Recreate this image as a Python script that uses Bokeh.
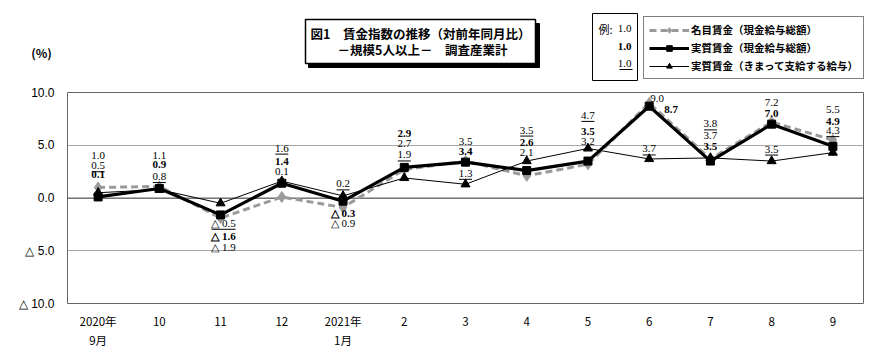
from bokeh.plotting import figure
from bokeh.models import (FixedTicker, BoxAnnotation, Legend, LegendItem, ColumnDataSource)
from bokeh.embed import file_html
from bokeh.resources import INLINE
from bokeh.core.properties import value

# ---------------- data ----------------
months = ["2020年\n9月", "10", "11", "12", "2021年\n1月", "2", "3", "4", "5", "6", "7", "8", "9"]
nominal = [1.0, 1.1, -1.9, 0.1, -0.9, 2.7, 3.5, 2.1, 3.2, 9.0, 3.7, 7.2, 5.5]   # 名目賃金（現金給与総額）
real = [0.1, 0.9, -1.6, 1.4, -0.3, 2.9, 3.4, 2.6, 3.5, 8.7, 3.5, 7.0, 4.9]      # 実質賃金（現金給与総額）
sched = [0.5, 0.8, -0.5, 1.6, 0.2, 1.9, 1.3, 3.5, 4.7, 3.7, 3.8, 3.5, 4.3]      # 実質賃金（きまって支給する給与）
y_ticks = [-10, -5, 0, 5, 10]
y_tick_labels = ["△ 10.0", "△ 5.0", "0.0", "5.0", "10.0"]
series_names = ["名目賃金（現金給与総額）", "実質賃金（現金給与総額）", "実質賃金（きまって支給する給与）"]
title_lines = ["図1　賃金指数の推移（対前年同月比）", "－規模5人以上－　調査産業計"]

# ---------------- label placement (screen px offsets from each point) ----------------
nom_dx = [0, 0, 3, 0, 0, 0, 0, 0, 0, 8, 0, 0, 0]
nom_dy = [-32, -31, 29, -25, 16, -26, -20, -23, -23, -5, -23, -20, -30]
real_dx = [0, 0, 3, 0, 0, 0, 0, 0, 0, 22, 0, 0, 0]
real_dy = [-22, -24, 21, -22, 12, -34, -11, -28, -30, 3, -15, -11, -25]
sched_dx = [0, 0, 3, 0, 0, 0, 0, 0, 0, 0, 0, 0, 0]
sched_dy = [-27, -13, 20, -33, -12, -23, -11, -31, -33, -10, -34, -12, -22]

NUM_FONT = "Liberation Serif"
JP_FONT = "Noto Sans CJK JP"
GRAY = "#9a9a9a"

HEAD_H = 84
FL, FW, FH = 67, 796, 211
PPX = FW / len(months)
PPU = FH / 20.0


def fmt(v):
    return f"{v:.1f}" if v >= 0 else f"△ {abs(v):.1f}"


# =============== header (title box, unit, example box, legend) ===============
h = figure(width=880, height=HEAD_H, x_range=(0, 880), y_range=(HEAD_H, 0),
           x_axis_type=None, y_axis_type=None, min_border=0,
           output_backend="svg", toolbar_location=None)
h.outline_line_color = None
h.xgrid.visible = False
h.ygrid.visible = False

# title box with drop shadow
h.quad(left=[308], right=[539], top=[23], bottom=[67], fill_color="black", line_color="black")
h.quad(left=[305], right=[535], top=[19], bottom=[63], fill_color="white",
       line_color="black", line_width=1.5)
h.text(x=[420, 422], y=[33, 49], text=title_lines, text_font=value(JP_FONT),
       text_font_size="12.5px", text_font_style="bold", text_align="center",
       text_baseline="middle", text_color="black")

# unit
h.text(x=[41], y=[52], text=["(%)"], text_font=value(JP_FONT), text_font_size="12px",
       text_font_style="bold", text_align="center", text_baseline="middle", text_color="black")

# example box
h.quad(left=[592], right=[637], top=[13], bottom=[80], fill_color="white",
       line_color="black", line_width=1)
h.text(x=[598], y=[28], text=["例:"], text_font=value(JP_FONT), text_font_size="11px",
       text_align="left", text_baseline="middle", text_color="black")
h.text(x=[631, 631], y=[28, 63], text=["1.0", "1.0"], text_font=value(NUM_FONT),
       text_font_size="11px", text_align="right", text_baseline="middle", text_color="black")
h.text(x=[631], y=[46], text=["1.0"], text_font=value(NUM_FONT), text_font_size="11px",
       text_font_style="bold", text_align="right", text_baseline="middle", text_color="black")
h.segment(x0=[619], y0=[69], x1=[632], y1=[69], line_color="black", line_width=1)

# legend (sample renderers styled like the series, kept off-canvas)
off_x, off_y = [-100, -90], [-100, -100]
ln_n = h.line(off_x, off_y, line_color=GRAY, line_width=3, line_dash="7 4")
mk_n = h.scatter(off_x[:1], off_y[:1], marker="diamond", size=11, fill_color=GRAY, line_color=GRAY)
ln_r = h.line(off_x, off_y, line_color="black", line_width=3.2)
mk_r = h.scatter(off_x[:1], off_y[:1], marker="square", size=8, fill_color="black", line_color="black")
ln_s = h.line(off_x, off_y, line_color="black", line_width=1)
mk_s = h.scatter(off_x[:1], off_y[:1], marker="triangle", size=9, fill_color="black", line_color="black")
legend = Legend(items=[
    LegendItem(label=series_names[0], renderers=[ln_n, mk_n]),
    LegendItem(label=series_names[1], renderers=[ln_r, mk_r]),
    LegendItem(label=series_names[2], renderers=[ln_s, mk_s]),
], location=(643, HEAD_H - 79))
legend.label_text_font = JP_FONT
legend.label_text_font_size = "10.5px"
legend.label_text_font_style = "bold"
legend.label_text_color = "black"
legend.glyph_width = 40
legend.glyph_height = 14
legend.label_height = 14
legend.label_standoff = 2
legend.spacing = 3
legend.padding = 5
legend.margin = 0
legend.border_line_color = "black"
legend.border_line_width = 1
legend.background_fill_alpha = 1
h.add_layout(legend, "center")

# =============== main chart ===============
p = figure(frame_width=FW, frame_height=FH, x_range=(-0.5, 12.5), y_range=(-10, 10),
           output_backend="svg", toolbar_location=None,
           min_border_left=FL, min_border_right=17, min_border_top=92 - HEAD_H,
           min_border_bottom=45)
p.outline_line_color = "#666666"
p.outline_line_width = 1

p.xgrid.visible = False
p.ygrid.ticker = FixedTicker(ticks=y_ticks)
p.ygrid.grid_line_color = "#a8a8a8"

p.yaxis.ticker = FixedTicker(ticks=y_ticks)
p.yaxis.major_label_overrides = dict(zip(y_ticks, y_tick_labels))
p.yaxis.axis_line_color = None
p.yaxis.major_tick_line_color = None
p.yaxis.minor_tick_line_color = None
p.yaxis.major_label_standoff = 7
p.yaxis.major_label_text_font = "Liberation Sans"
p.yaxis.major_label_text_font_size = "12px"
p.yaxis.major_label_text_color = "black"

xs = list(range(len(months)))
p.xaxis.ticker = FixedTicker(ticks=xs)
p.xaxis.major_label_overrides = dict(zip(xs, months))
p.xaxis.axis_line_color = None
p.xaxis.major_tick_line_color = None
p.xaxis.minor_tick_line_color = None
p.xaxis.major_label_standoff = 3
p.xaxis.major_label_text_font = JP_FONT
p.xaxis.major_label_text_font_size = "11.5px"
p.xaxis.major_label_text_color = "black"

# zero line
p.add_layout(BoxAnnotation(left=-0.6, right=12.6, top=0, bottom=0, fill_alpha=0,
                           line_color="black", line_width=2, level="underlay"))

# series
p.line(xs, nominal, line_color=GRAY, line_width=3, line_dash="7 4")
p.scatter(xs, nominal, marker="diamond", size=11, fill_color=GRAY, line_color=GRAY)
p.line(xs, sched, line_color="black", line_width=1)
p.scatter(xs, sched, marker="triangle", size=9, fill_color="black", line_color="black")
p.line(xs, real, line_color="black", line_width=3.2)
p.scatter(xs, real, marker="square", size=8, fill_color="black", line_color="black")


def add_labels(vals, dxs, dys, style):
    src = ColumnDataSource(dict(x=xs, y=vals, t=[fmt(v) for v in vals], dx=dxs, dy=dys))
    p.text(x="x", y="y", text="t", x_offset="dx", y_offset="dy", source=src,
           text_font=value(NUM_FONT), text_font_size="11px", text_font_style=style,
           text_align="center", text_baseline="middle", text_color="black")


add_labels(nominal, nom_dx, nom_dy, "normal")
add_labels(real, real_dx, real_dy, "bold")
add_labels(sched, sched_dx, sched_dy, "normal")

# underlines for the scheduled-earnings labels
ux = [i + d / PPX for i, d in zip(xs, sched_dx)]
uy = [v - (d + 6) / PPU for v, d in zip(sched, sched_dy)]
uw = [24 if v < 0 else 13 for v in sched]
p.scatter(ux, uy, marker="dash", size=uw, line_color="black", line_width=1)

open("out.html", "w").write(file_html([h, p], INLINE))
